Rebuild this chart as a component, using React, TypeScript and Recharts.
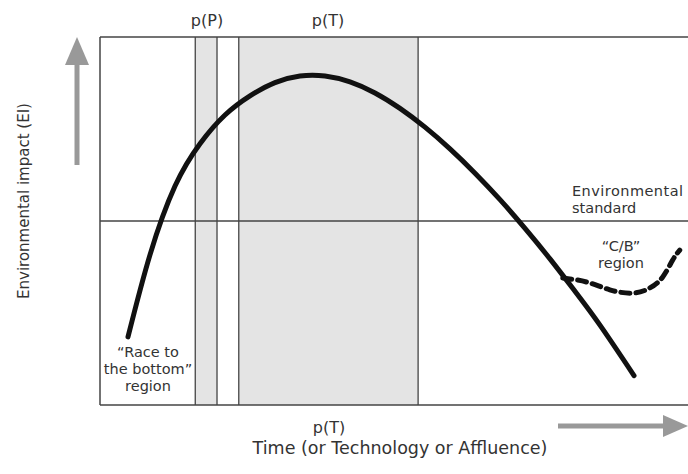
import React from "react";
import { LineChart, Line, XAxis, YAxis, ReferenceArea, ReferenceLine } from "recharts";

// Environmental impact curve (x: time/technology/affluence 0-100, y: environmental impact 0-100)
const eiX = [4.76, 8.5, 12.76, 17.01, 21.26, 25.51, 29.76, 34.01, 38.27, 42.52, 46.77, 51.02, 55.27, 59.52, 63.78, 68.03, 72.28, 76.53, 80.78, 85.03, 90.82];
const eiY = [18.5, 40.8, 59.5, 71.0, 78.8, 84.0, 87.6, 89.4, 89.4, 87.8, 84.8, 80.6, 75.5, 69.6, 63.0, 55.8, 48.0, 39.7, 30.9, 21.7, 8.0];

// "C/B" region branch
const cbX = [78.7, 82.8, 86.7, 90.6, 93.5, 95.7, 97.4, 98.6];
const cbY = [34.5, 33.4, 31.3, 30.4, 31.8, 34.8, 39.4, 42.1];

// Policy periods
const pPStart = 16.2;
const pPEnd = 19.9;
const pTStart = 23.6;
const pTEnd = 54.1;
const standard = 50;

const mainData = eiX.map((x, i) => ({ x, y: eiY[i] }));
const cbData = cbX.map((x, i) => ({ x, y: cbY[i] }));

const FONT = "'DejaVu Sans', sans-serif";
const TXT = "#333";
const FRAME = "#444";

export default function App() {
  return (
    <div style={{ position: "absolute", left: 0, top: 0, width: 688, height: 474, background: "#fff" }}>
      <LineChart width={688} height={474} margin={{ top: 37, right: 0, bottom: 69, left: 100 }}>
        <XAxis type="number" dataKey="x" domain={[0, 100]} hide allowDataOverflow />
        <YAxis type="number" dataKey="y" domain={[0, 100]} hide allowDataOverflow />
        <ReferenceArea x1={pPStart} x2={pPEnd} y1={0} y2={100} fill="#e4e4e4" fillOpacity={1} stroke="none" />
        <ReferenceArea x1={pTStart} x2={pTEnd} y1={0} y2={100} fill="#e4e4e4" fillOpacity={1} stroke="none" />
        <ReferenceLine x={0} stroke={FRAME} strokeWidth={1.5} />
        <ReferenceLine y={100} stroke={FRAME} strokeWidth={1.5} />
        <ReferenceLine y={0} stroke={FRAME} strokeWidth={1.5} />
        <ReferenceLine y={standard} stroke={FRAME} strokeWidth={1.3} />
        <ReferenceLine x={pPStart} stroke={FRAME} strokeWidth={1.3} />
        <ReferenceLine x={pPEnd} stroke={FRAME} strokeWidth={1.3} />
        <ReferenceLine x={pTStart} stroke={FRAME} strokeWidth={1.3} />
        <ReferenceLine x={pTEnd} stroke={FRAME} strokeWidth={1.3} />
        <Line
          data={mainData}
          dataKey="y"
          type="natural"
          stroke="#111"
          strokeWidth={5}
          strokeLinecap="round"
          dot={false}
          activeDot={false}
          isAnimationActive={false}
        />
        <Line
          data={cbData}
          dataKey="y"
          type="natural"
          stroke="#111"
          strokeWidth={5}
          strokeDasharray="9 6"
          strokeLinecap="round"
          dot={false}
          activeDot={false}
          isAnimationActive={false}
        />
      </LineChart>
      <svg
        width={688}
        height={474}
        style={{ position: "absolute", left: 0, top: 0, pointerEvents: "none" }}
        fontFamily={FONT}
        fill={TXT}
      >
        {/* up arrow */}
        <line x1={77} y1={165} x2={77} y2={60} stroke="#999" strokeWidth={5} />
        <polygon points="77,37 65,65 89,65" fill="#999" />
        {/* right arrow */}
        <line x1={558} y1={426} x2={668} y2={426} stroke="#999" strokeWidth={5} />
        <polygon points="688,426 663,415 663,437" fill="#999" />

        <text x={207} y={26} fontSize={16} textAnchor="middle">p(P)</text>
        <text x={328} y={26} fontSize={16} textAnchor="middle">p(T)</text>
        <text x={329} y={433} fontSize={16} textAnchor="middle">p(T)</text>
        <text x={400} y={454} fontSize={17.5} textAnchor="middle">Time (or Technology or Affluence)</text>
        <text x={29} y={201} fontSize={15} textAnchor="middle" transform="rotate(-90 29 201)">
          Environmental impact (EI)
        </text>

        <text x={572} y={196} fontSize={14.5} textLength={111}>Environmental</text>
        <text x={572} y={213} fontSize={14.5}>standard</text>

        <text x={621} y={251} fontSize={14.5} textAnchor="middle">“C/B”</text>
        <text x={621} y={268} fontSize={14.5} textAnchor="middle">region</text>

        <text x={148} y={357} fontSize={14.5} textAnchor="middle">“Race to</text>
        <text x={148} y={374} fontSize={14.5} textAnchor="middle">the bottom”</text>
        <text x={148} y={391} fontSize={14.5} textAnchor="middle">region</text>
      </svg>
    </div>
  );
}
